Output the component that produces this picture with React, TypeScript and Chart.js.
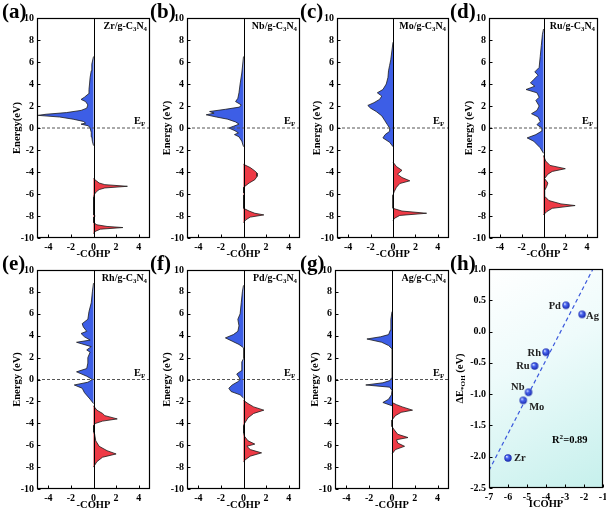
import React, { useEffect, useRef } from 'react';
import { Chart, registerables } from 'chart.js';
Chart.register(...registerables);

const FAMILY = "'Liberation Serif', 'Times New Roman', serif";
const BLUE = '#3d5ee6';
const RED = '#ee3a46';
const EDGE = '#1a1a1a';

// ---------- tick labels ----------
const energyTicks = [-10, -8, -6, -4, -2, 0, 2, 4, 6, 8, 10];
const cohpTicks = [-4, -2, 0, 2, 4];
const icohpTicks = [-7, -6, -5, -4, -3, -2, -1];
const dEohTicks = [-2.5, -2.0, -1.5, -1.0, -0.5, 0.0, 0.5, 1.0];

// ---------- -COHP curves (energy in eV, -COHP value) ----------
const zrAntiE = [-1.6, -1.2, -0.8, -0.4, 0.0, 0.2, 0.35, 0.45, 0.6, 0.8, 1.0, 1.15, 1.25, 1.4, 1.6, 1.8, 2.1, 2.4, 2.6, 2.8, 3.1, 3.5, 4.0, 4.6, 5.2, 5.8, 6.5];
const zrAntiC = [0, -0.1, -0.15, -0.2, -0.3, -0.45, -1.1, -0.7, -0.9, -1.8, -3.0, -4.9, -4.2, -2.4, -1.1, -0.6, -0.5, -0.7, -1.1, -0.8, -0.45, -0.4, -0.35, -0.3, -0.2, -0.15, 0];
const zrBondE = [-4.6, -4.8, -5.0, -5.15, -5.3, -5.45, -5.6, -5.8, -6.0, -6.3, -7.9, -8.0, -8.1, -8.6, -8.8, -8.95, -9.05, -9.2, -9.4, -9.6];
const zrBondC = [0, 0.25, 0.5, 1.0, 3.0, 1.0, 0.5, 0.25, 0.1, 0, 0, 0.15, 0, 0, 0.3, 1.2, 2.6, 0.6, 0.15, 0];

const nbAntiE = [-1.7, -1.2, -0.8, -0.6, -0.45, -0.25, 0.0, 0.15, 0.35, 0.55, 0.8, 1.0, 1.2, 1.35, 1.5, 1.7, 1.9, 2.1, 2.4, 2.7, 3.2, 4.0, 5.0, 6.5];
const nbAntiC = [0, -0.15, -0.4, -0.8, -0.45, -0.75, -1.3, -0.9, -0.4, -0.7, -1.4, -2.4, -3.3, -2.6, -3.0, -1.6, -0.35, -0.2, -0.7, -0.5, -0.4, -0.3, -0.15, 0];
const nbBondE = [-3.3, -3.6, -3.9, -4.1, -4.4, -4.7, -5.0, -5.4, -5.9, -6.0, -6.1, -7.3, -7.55, -7.75, -7.9, -8.1, -8.35, -8.6];
const nbBondC = [0, 0.6, 1.0, 1.2, 1.2, 1.0, 0.5, 0, 0, 0.1, 0, 0, 0.5, 1.0, 1.8, 0.6, 0.2, 0];

const moAntiE = [-1.7, -1.3, -0.9, -0.6, -0.3, 0.0, 0.3, 0.7, 1.1, 1.5, 1.8, 2.05, 2.3, 2.6, 2.9, 3.2, 3.5, 4.0, 4.6, 5.2, 5.7, 6.2, 7.0, 7.8];
const moAntiC = [0, -0.3, -0.9, -0.7, -0.3, -0.3, -0.5, -0.75, -1.0, -1.5, -2.0, -2.25, -1.7, -1.2, -1.0, -1.4, -0.9, -0.6, -0.45, -0.4, -0.3, -0.2, -0.1, 0];
const moBondE = [-3.1, -3.5, -3.85, -4.2, -4.5, -4.8, -5.05, -5.4, -5.8, -6.1, -7.3, -7.55, -7.75, -7.95, -8.2, -8.4];
const moBondC = [0, 0.3, 0.8, 0.4, 0.8, 1.5, 0.6, 0.3, 0.1, 0, 0, 0.8, 3.0, 0.6, 0.15, 0];

const ruAntiE = [-2.3, -1.8, -1.2, -0.9, -0.6, -0.3, 0.0, 0.3, 0.6, 1.0, 1.3, 1.6, 2.0, 2.5, 2.8, 3.2, 3.5, 3.8, 4.1, 4.4, 4.8, 5.1, 5.5, 6.5, 7.5, 8.5, 9.0];
const ruAntiC = [0, -0.3, -0.9, -1.5, -0.7, -0.2, -0.15, -0.6, -0.3, -0.5, -1.1, -0.6, -0.4, -0.7, -0.4, -0.6, -1.6, -0.8, -1.2, -0.9, -0.5, -0.8, -0.4, -0.3, -0.2, -0.1, 0];
const ruBondE = [-2.5, -3.0, -3.4, -3.7, -3.95, -4.2, -4.6, -5.0, -5.3, -5.7, -6.2, -6.6, -6.9, -7.05, -7.3, -7.6, -7.9];
const ruBondC = [0, 0.2, 0.6, 2.0, 0.8, 0.4, 0.1, 0.4, 0.3, 0.1, 0.1, 0.5, 1.6, 2.9, 0.8, 0.3, 0];

const rhAntiE = [-2.2, -1.8, -1.2, -0.8, -0.5, -0.25, 0.0, 0.3, 0.7, 1.0, 1.5, 2.0, 2.5, 2.7, 3.0, 3.4, 3.6, 3.9, 4.2, 4.4, 4.8, 5.1, 5.5, 6.2, 7.0, 8.0, 8.8];
const rhAntiC = [0, -0.3, -0.8, -1.0, -1.7, -0.5, -0.1, -0.6, -1.5, -0.6, -0.5, -0.5, -0.3, -0.6, -0.2, -1.5, -0.3, -0.8, -1.1, -0.6, -0.9, -1.0, -0.5, -0.4, -0.2, -0.1, 0];
const rhBondE = [-2.4, -2.8, -3.1, -3.3, -3.6, -3.8, -4.0, -4.2, -4.8, -5.0, -5.6, -6.1, -6.5, -6.8, -7.1, -7.5, -8.0];
const rhBondC = [0, 0.3, 0.8, 1.0, 2.1, 0.8, 0.2, 0, 0, 0.1, 0.2, 0.5, 1.2, 2.0, 0.8, 0.3, 0];

const pdAntiE = [-1.7, -1.4, -1.1, -0.8, -0.5, -0.2, 0.0, 0.2, 0.5, 0.8, 1.2, 1.6, 1.9, 2.9, 3.2, 3.5, 3.8, 4.1, 4.4, 4.9, 5.5, 6.0, 7.0, 8.0, 8.6];
const pdAntiC = [0, -0.3, -1.1, -1.3, -1.0, -0.5, -0.3, -0.4, -0.6, -0.2, -0.15, -0.15, 0, 0, -0.4, -1.0, -1.6, -0.9, -0.5, -0.4, -0.5, -0.3, -0.2, -0.1, 0];
const pdBondE = [-1.9, -2.2, -2.5, -2.8, -3.1, -3.5, -4.0, -4.2, -4.9, -5.2, -5.6, -5.9, -6.1, -6.4, -6.7, -7.0, -7.3, -7.5];
const pdBondC = [0, 0.4, 0.9, 1.8, 0.9, 0.4, 0.1, 0, 0, 0.1, 0.4, 1.0, 0.3, 0.6, 1.6, 0.6, 0.2, 0];

const agAntiE = [-2.4, -2.1, -1.8, -1.4, -1.0, -0.7, -0.5, -0.3, -0.1, 0.2, 2.8, 3.1, 3.4, 3.7, 3.9, 4.1, 4.5, 5.5, 6.2];
const agAntiC = [0, -0.8, -0.3, -0.05, 0, -0.2, -2.3, -0.8, -0.2, 0, 0, -0.3, -0.9, -2.2, -1.0, -0.3, -0.15, -0.1, 0];
const agBondE = [-2.1, -2.3, -2.5, -2.8, -3.0, -3.3, -3.7, -4.3, -4.6, -5.0, -5.3, -5.5, -5.8, -6.1, -6.4, -6.8];
const agBondC = [0, 0.4, 0.9, 1.8, 0.8, 0.3, 0, 0, 0.2, 0.5, 1.4, 0.4, 0.5, 1.1, 0.3, 0];

// ---------- panel (h) ----------
const metals = ['Zr', 'Nb', 'Mo', 'Ru', 'Rh', 'Pd', 'Ag'];
const icohp = [-6.0, -4.92, -5.2, -4.6, -4.0, -2.95, -2.1];
const dEoh = [-2.02, -0.97, -1.1, -0.55, -0.33, 0.42, 0.275];
const fitX = [-7.0, -1.53];
const fitY = [-2.22, 1.0];
const r2Text = '0.89';

// ---------- layout (positions / styles only) ----------
const AX_W = 36, AX_H = 25, PAD_T = 10, PAD_R = 5;
type Box = { L: number; T: number; R: number; B: number };

const cohpPanels = [
  { letter: 'a', metal: 'Zr', aE: zrAntiE, aC: zrAntiC, bE: zrBondE, bC: zrBondC, yTitle: 'Energy(eV)', box: { L: 37, T: 18, R: 150, B: 238 } },
  { letter: 'b', metal: 'Nb', aE: nbAntiE, aC: nbAntiC, bE: nbBondE, bC: nbBondC, yTitle: 'Energy (eV)', box: { L: 187, T: 18, R: 300, B: 238 } },
  { letter: 'c', metal: 'Mo', aE: moAntiE, aC: moAntiC, bE: moBondE, bC: moBondC, yTitle: 'Energy (eV)', box: { L: 337, T: 18, R: 449, B: 238 } },
  { letter: 'd', metal: 'Ru', aE: ruAntiE, aC: ruAntiC, bE: ruBondE, bC: ruBondC, yTitle: 'Energy (eV)', box: { L: 489, T: 18, R: 598, B: 238 } },
  { letter: 'e', metal: 'Rh', aE: rhAntiE, aC: rhAntiC, bE: rhBondE, bC: rhBondC, yTitle: 'Energy (eV)', box: { L: 37, T: 270, R: 150, B: 489 } },
  { letter: 'f', metal: 'Pd', aE: pdAntiE, aC: pdAntiC, bE: pdBondE, bC: pdBondC, yTitle: 'Energy (eV)', box: { L: 187, T: 270, R: 300, B: 489 } },
  { letter: 'g', metal: 'Ag', aE: agAntiE, aC: agAntiC, bE: agBondE, bC: agBondC, yTitle: 'Energy (eV)', box: { L: 335, T: 270, R: 449, B: 489 } },
];
const hBox: Box = { L: 489, T: 269, R: 603, B: 488 };

const letterPos: Record<string, { x: number; y: number }> = {
  a: { x: 2, y: 1 }, b: { x: 150, y: 1 }, c: { x: 300, y: 1 }, d: { x: 450, y: 1 },
  e: { x: 2, y: 253 }, f: { x: 150, y: 253 }, g: { x: 300, y: 253 }, h: { x: 450, y: 253 },
};

const labelOffsets: Record<string, { dx: number; dy: number; align: 'left' | 'right' }> = {
  Zr: { dx: 6, dy: 0, align: 'left' },
  Nb: { dx: -4, dy: -6, align: 'right' },
  Mo: { dx: 6, dy: 6, align: 'left' },
  Ru: { dx: -5, dy: 0, align: 'right' },
  Rh: { dx: -5, dy: 0, align: 'right' },
  Pd: { dx: -5, dy: 0, align: 'right' },
  Ag: { dx: 4, dy: 1, align: 'left' },
};

function canvasRect(b: Box) {
  return { left: b.L - AX_W, top: b.T - PAD_T, width: b.R - b.L + AX_W + PAD_R, height: b.B - b.T + PAD_T + AX_H };
}

type Part = { t: string; sub?: boolean; sup?: boolean };
function drawRich(ctx: CanvasRenderingContext2D, parts: Part[], x: number, y: number, size: number, align: 'left' | 'right' | 'center') {
  const small = size * 0.68;
  const f = (s: number) => `bold ${s}px ${FAMILY}`;
  let w = 0;
  for (const p of parts) { ctx.font = f(p.sub || p.sup ? small : size); w += ctx.measureText(p.t).width; }
  let cx = align === 'left' ? x : align === 'right' ? x - w : x - w / 2;
  ctx.textAlign = 'left';
  ctx.textBaseline = 'alphabetic';
  for (const p of parts) {
    const s = p.sub || p.sup ? small : size;
    ctx.font = f(s);
    const dy = p.sub ? size * 0.22 : p.sup ? -size * 0.38 : 0;
    ctx.fillText(p.t, cx, y + dy);
    cx += ctx.measureText(p.t).width;
  }
}

function frameAndTicks(ctx: CanvasRenderingContext2D, chart: any) {
  const { chartArea: a, scales: { x, y } } = chart;
  const L = Math.round(a.left) + 0.5, R = Math.round(a.right) - 0.5, T = Math.round(a.top) + 0.5, B = Math.round(a.bottom) - 0.5;
  ctx.strokeStyle = '#000';
  ctx.lineWidth = 1.2;
  ctx.strokeRect(L, T, R - L, B - T);
  ctx.lineWidth = 1;
  ctx.beginPath();
  x.ticks.forEach((t: any) => { const px = Math.round(x.getPixelForValue(t.value)) + 0.5; ctx.moveTo(px, B); ctx.lineTo(px, B - 3); });
  y.ticks.forEach((t: any) => { const py = Math.round(y.getPixelForValue(t.value)) + 0.5; ctx.moveTo(L, py); ctx.lineTo(L + 3, py); });
  ctx.stroke();
}

const tickFont = { family: FAMILY, size: 10, weight: 'bold' as const };
const titleFont = { family: FAMILY, size: 10.5, weight: 'bold' as const };

function axisX(min: number, max: number, ticks: number[], title: string, fmt?: (v: number) => string) {
  return {
    type: 'linear', min, max,
    afterBuildTicks: (s: any) => { s.ticks = ticks.map((v) => ({ value: v })); },
    afterFit: (s: any) => { s.height = AX_H; s.paddingLeft = 0; s.paddingRight = 0; },
    grid: { display: false, drawTicks: false },
    border: { display: false },
    ticks: { font: tickFont, color: '#000', padding: 3, maxRotation: 0, autoSkip: false, callback: fmt ? (v: any) => fmt(Number(v)) : (v: any) => String(v) },
    title: { display: true, text: title, font: titleFont, color: '#000', padding: { top: 0, bottom: 2 } },
  };
}
function axisY(min: number, max: number, ticks: number[], title: string | null, fmt?: (v: number) => string) {
  return {
    type: 'linear', min, max,
    afterBuildTicks: (s: any) => { s.ticks = ticks.map((v) => ({ value: v })); },
    afterFit: (s: any) => { s.width = AX_W; s.paddingTop = 0; s.paddingBottom = 0; },
    grid: { display: false, drawTicks: false },
    border: { display: false },
    ticks: { font: tickFont, color: '#000', padding: 3, autoSkip: false, callback: fmt ? (v: any) => fmt(Number(v)) : (v: any) => String(v) },
    title: { display: !!title, text: title || '', font: titleFont, color: '#000', padding: { top: 10, bottom: 0 } },
  };
}

function cohpConfig(p: any) {
  const anti = p.aE.map((e: number, i: number) => ({ x: p.aC[i], y: e }));
  const bond = p.bE.map((e: number, i: number) => ({ x: p.bC[i], y: e }));
  const deco = {
    id: 'deco_' + p.letter,
    afterDatasetsDraw(chart: any) {
      const { ctx, chartArea: a, scales: { x, y } } = chart;
      ctx.save();
      const x0 = Math.round(x.getPixelForValue(0)) + 0.5;
      ctx.strokeStyle = '#000';
      ctx.lineWidth = 1;
      ctx.beginPath(); ctx.moveTo(x0, a.top); ctx.lineTo(x0, a.bottom); ctx.stroke();
      frameAndTicks(ctx, chart);
      ctx.fillStyle = '#000';
      drawRich(ctx, [{ t: p.metal + '/g-C' }, { t: '3', sub: true }, { t: 'N' }, { t: '4', sub: true }], a.right - 3, a.top + 11, 10, 'right');
      const yF = y.getPixelForValue(0);
      drawRich(ctx, [{ t: 'E' }, { t: 'F', sub: true }], a.right - 16, yF - 4, 10.5, 'left');
      ctx.restore();
    },
  };
  return {
    type: 'scatter',
    data: {
      datasets: [
        { data: [{ x: -5, y: 0 }, { x: 5, y: 0 }], showLine: true, borderColor: '#555', borderDash: [3, 2], borderWidth: 1, pointRadius: 0, fill: false },
        { data: anti, showLine: true, fill: 'shape', backgroundColor: BLUE, borderColor: EDGE, borderWidth: 0.8, pointRadius: 0, tension: 0 },
        { data: bond, showLine: true, fill: 'shape', backgroundColor: RED, borderColor: EDGE, borderWidth: 0.8, pointRadius: 0, tension: 0 },
      ],
    },
    options: {
      responsive: false, animation: false, events: [],
      layout: { padding: { top: PAD_T, right: PAD_R, left: 0, bottom: 0 } },
      plugins: { legend: { display: false }, tooltip: { enabled: false } },
      scales: { x: axisX(-5, 5, cohpTicks, '-COHP'), y: axisY(-10, 10, energyTicks, p.yTitle) },
    },
    plugins: [deco],
  };
}

function makeSphere(r: number) {
  const c = document.createElement('canvas');
  const s = Math.ceil(r * 2) + 2;
  c.width = s; c.height = s;
  const g = c.getContext('2d')!;
  const cx = s / 2, cy = s / 2;
  const grad = g.createRadialGradient(cx - r * 0.35, cy - r * 0.4, r * 0.1, cx, cy, r);
  grad.addColorStop(0, '#d0dcff');
  grad.addColorStop(0.35, '#4a66f2');
  grad.addColorStop(1, '#1626a8');
  g.fillStyle = grad;
  g.beginPath(); g.arc(cx, cy, r, 0, Math.PI * 2); g.fill();
  return c;
}

function hConfig() {
  const pts = icohp.map((v, i) => ({ x: v, y: dEoh[i] }));
  const fit = fitX.map((v, i) => ({ x: v, y: fitY[i] }));
  const sphere = makeSphere(3.7);
  const deco = {
    id: 'deco_h',
    beforeDatasetsDraw(chart: any) {
      const { ctx, chartArea: a } = chart;
      const g = ctx.createLinearGradient(a.left, a.top, a.right, a.bottom);
      g.addColorStop(0, '#ffffff');
      g.addColorStop(0.4, '#eefbfb');
      g.addColorStop(1, '#c6f0ec');
      ctx.save(); ctx.fillStyle = g; ctx.fillRect(a.left, a.top, a.right - a.left, a.bottom - a.top); ctx.restore();
    },
    afterDatasetsDraw(chart: any) {
      const { ctx, chartArea: a } = chart;
      ctx.save();
      frameAndTicks(ctx, chart);
      const meta = chart.getDatasetMeta(1);
      ctx.fillStyle = '#222';
      meta.data.forEach((el: any, i: number) => {
        const o = labelOffsets[metals[i]];
        drawRich(ctx, [{ t: metals[i] }], el.x + o.dx, el.y + o.dy + 3.5, 10.5, o.align);
      });
      ctx.fillStyle = '#000';
      drawRich(ctx, [{ t: 'R' }, { t: '2', sup: true }, { t: '=' + r2Text }], a.left + 63, a.top + 174, 10.5, 'left');
      ctx.translate(a.left - 30, (a.top + a.bottom) / 2);
      ctx.rotate(-Math.PI / 2);
      drawRich(ctx, [{ t: '\u0394E' }, { t: '*OH', sub: true }, { t: ' (eV)' }], 0, 3.5, 10.5, 'center');
      ctx.restore();
    },
  };
  return {
    type: 'scatter',
    data: {
      datasets: [
        { data: fit, showLine: true, borderColor: '#3a58dc', borderDash: [4, 3], borderWidth: 1.2, pointRadius: 0, fill: false },
        { data: pts, showLine: false, pointStyle: sphere, pointRadius: 4 },
      ],
    },
    options: {
      responsive: false, animation: false, events: [],
      layout: { padding: { top: PAD_T, right: PAD_R, left: 0, bottom: 0 } },
      plugins: { legend: { display: false }, tooltip: { enabled: false } },
      scales: {
        x: axisX(-7, -1, icohpTicks, 'ICOHP'),
        y: axisY(-2.5, 1.0, dEohTicks, null, (v) => v.toFixed(1)),
      },
    },
    plugins: [deco],
  };
}

export default function App() {
  const refs = useRef<(HTMLCanvasElement | null)[]>([]);
  useEffect(() => {
    const charts: Chart[] = [];
    cohpPanels.forEach((p, i) => {
      const c = refs.current[i];
      if (c) charts.push(new Chart(c, cohpConfig(p) as any));
    });
    const ch = refs.current[7];
    if (ch) charts.push(new Chart(ch, hConfig() as any));
    return () => charts.forEach((c) => c.destroy());
  }, []);

  const boxes: Box[] = [...cohpPanels.map((p) => p.box), hBox];
  const letters = ['a', 'b', 'c', 'd', 'e', 'f', 'g', 'h'];
  return (
    <div style={{ position: 'absolute', left: 0, top: 0, width: 606, height: 513, overflow: 'hidden', background: '#fff' }}>
      {boxes.map((b, i) => {
        const r = canvasRect(b);
        return (
          <canvas
            key={i}
            ref={(el) => { refs.current[i] = el; }}
            width={r.width}
            height={r.height}
            style={{ position: 'absolute', left: r.left, top: r.top, width: r.width, height: r.height }}
          />
        );
      })}
      {letters.map((l) => (
        <div key={l} style={{ position: 'absolute', left: letterPos[l].x, top: letterPos[l].y, fontFamily: FAMILY, fontWeight: 'bold', fontSize: 21, lineHeight: '21px', color: '#000' }}>
          ({l})
        </div>
      ))}
    </div>
  );
}
